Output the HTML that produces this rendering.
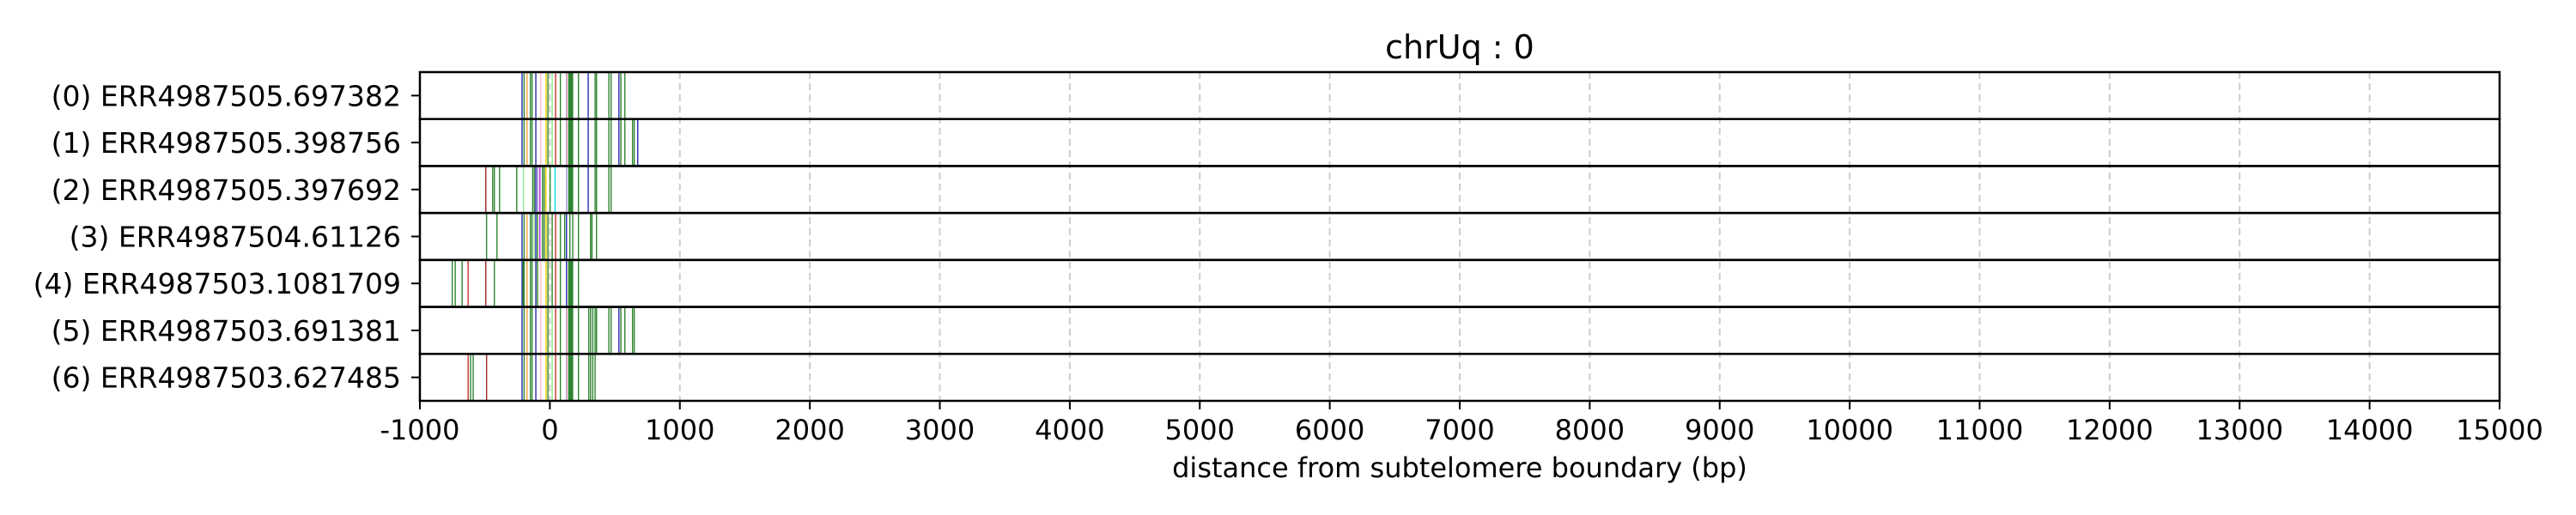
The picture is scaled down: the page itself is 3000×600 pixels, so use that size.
<!DOCTYPE html>
<html><head><meta charset="utf-8"><style>
html,body{margin:0;padding:0;background:#fff;}
svg{display:block;}
text{font-family:"DejaVu Sans","Liberation Sans",sans-serif;fill:#000;}
</style></head><body>
<svg id="chart" width="3000" height="600" viewBox="0 0 3000 600" xmlns="http://www.w3.org/2000/svg">
<text x="1700" y="68" font-size="38" text-anchor="middle">chrUq : 0</text>
<text x="1700" y="556" font-size="32" text-anchor="middle">distance from subtelomere boundary (bp)</text>
<g id="grid"></g><g id="marks"></g><g id="frame"></g><g id="axes"></g>
</svg>
<script>
const readLabels = ["(0) ERR4987505.697382","(1) ERR4987505.398756","(2) ERR4987505.397692","(3) ERR4987504.61126","(4) ERR4987503.1081709","(5) ERR4987503.691381","(6) ERR4987503.627485"];
const xTicks = [-1000,0,1000,2000,3000,4000,5000,6000,7000,8000,9000,10000,11000,12000,13000,14000,15000];
const palette = {g:"#2f8530",b:"#2a2ab0",o:"#f4a040",p:"#ffbcc8",y:"#f0c800",r:"#c83030",lg:"#90e890",pu:"#8f78d8",m:"#c020e0",c:"#00e0f0",br:"#a02828",lv:"#a898e0"};
const band = [[145,"g"],[150,"g"],[155,"g"],[160,"g"],[165,"g"],[170,"g"],[175,"g"]];
const common = [[-214,"b"],[-198,"g"],[-176,"o"],[-150,"g"],[-137,"g"],[-108,"b"],[-70,"p"],[-29,"y"],[-15,"g"],[18,"lg"],[44,"r"],[81,"g"],[128,"pu"],[132,"p"],[220,"g"]];
const row0 = common.concat(band,[[295,"b"],[348,"g"],[359,"g"],[454,"g"],[471,"g"],[531,"b"],[546,"g"],[577,"g"]]);
const row1 = common.concat(band,[[295,"b"],[348,"g"],[359,"g"],[454,"g"],[471,"g"],[531,"b"],[546,"g"],[577,"g"],[636,"g"],[649,"g"],[676,"b"]]);
const row2 = [[-493,"br"],[-440,"g"],[-427,"g"],[-387,"g"],[-255,"g"],[-203,"lg"],[-132,"g"],[-119,"g"],[-108,"b"],[-95,"pu"],[-77,"m"],[-57,"g"],[-44,"g"],[-31,"y"],[2,"g"],[40,"c"],[128,"lv"],[220,"g"],[295,"b"],[348,"g"],[359,"g"],[454,"g"],[471,"g"]].concat(band);
const row3 = [[-487,"g"],[-407,"g"],[-214,"b"],[-198,"g"],[-176,"o"],[-150,"g"],[-137,"g"],[-119,"lg"],[-108,"b"],[-95,"g"],[-77,"m"],[-57,"g"],[-44,"g"],[-29,"y"],[-15,"g"],[18,"g"],[44,"r"],[81,"g"],[114,"g"],[128,"b"],[154,"g"],[176,"g"],[220,"g"],[313,"g"],[324,"g"],[359,"g"]];
const row4 = [[-751,"g"],[-728,"g"],[-675,"g"],[-629,"r"],[-493,"br"],[-427,"g"],[-214,"b"],[-205,"g"],[-198,"g"],[-176,"o"],[-150,"g"],[-137,"g"],[-108,"b"],[-95,"g"],[-70,"p"],[-29,"y"],[-15,"g"],[18,"g"],[44,"r"],[81,"g"],[128,"b"],[220,"g"]].concat(band);
const row5 = common.concat(band,[[299,"g"],[313,"g"],[330,"g"],[348,"g"],[359,"g"],[454,"g"],[471,"g"],[531,"b"],[546,"g"],[577,"g"],[636,"g"],[649,"g"]]);
const row6 = [[-629,"r"],[-610,"g"],[-590,"g"],[-487,"br"]].concat(common,band,[[299,"g"],[313,"g"],[330,"g"],[348,"g"]]);
const rows = [row0,row1,row2,row3,row4,row5,row6];

const NS="http://www.w3.org/2000/svg";
const L=489,R=2911,T=84,B=467,xmin=-1000,xmax=15000;
const rowH=(B-T)/readLabels.length;
const xs=v=>L+(v-xmin)/(xmax-xmin)*(R-L);
function mk(tag,attrs,parent){const e=document.createElementNS(NS,tag);for(const k in attrs)e.setAttribute(k,attrs[k]);document.getElementById(parent).appendChild(e);return e;}

xTicks.forEach(t=>{
  if(t>xmin&&t<xmax){
    const g=mk("line",{x1:xs(t),x2:xs(t),y1:T,y2:B,stroke:"#cccccc","stroke-width":2,"stroke-dasharray":"8,5"},"grid");
    
    
  }
  const tk=mk("line",{x1:xs(t),x2:xs(t),y1:B,y2:B+10,stroke:"#000","stroke-width":2},"axes");
  
  
  const tl=mk("text",{x:xs(t),y:512,"font-size":32,"text-anchor":"middle"},"axes");
  tl.textContent=String(t);
  
  
});

rows.forEach((row,i)=>{
  const y0=T+i*rowH,y1=y0+rowH;
  row.forEach(d=>{
    const ln=mk("line",{x1:xs(d[0]),x2:xs(d[0]),y1:y0,y2:y1,stroke:palette[d[1]],"stroke-width":1.4},"marks");
    
    
  });
  const rb=mk("rect",{x:L,y:y0,width:R-L,height:rowH,fill:"none",stroke:"#000","stroke-width":2.5},"frame");
  
  
  const yc=y0+rowH/2;
  const tk=mk("line",{x1:L-10,x2:L,y1:yc,y2:yc,stroke:"#000","stroke-width":2},"axes");
  
  
  const lb=mk("text",{x:467,y:yc+12,"font-size":33,"text-anchor":"end"},"axes");
  lb.textContent=readLabels[i];
  
  
});
</script>
</body></html>
